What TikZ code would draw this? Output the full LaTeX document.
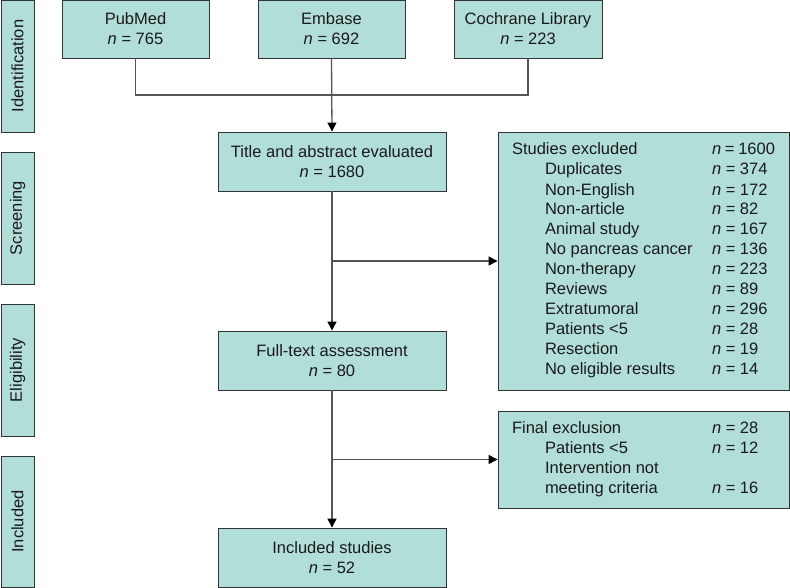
\documentclass[tikz,border=0pt]{standalone}
\usepackage{fontspec}
\setmainfont{Liberation Sans}
\usetikzlibrary{arrows.meta}
\definecolor{boxfill}{HTML}{B2DEDA}
\definecolor{boxline}{HTML}{333333}
\definecolor{conn}{HTML}{555555}
\definecolor{txt}{HTML}{1A1A1A}
\newcommand{\nn}[1]{\textit{n} = #1}
\newcommand{\ind}{\hspace*{33pt}}
\begin{document}
\begin{tikzpicture}[x=1pt,y=-1pt,
  every node/.style={font=\fontsize{16.5}{20}\selectfont, text=txt},
  flowbox/.style={draw=boxline, line width=0.9pt, fill=boxfill, align=center, inner sep=0pt},
  sidebox/.style={draw=boxline, line width=0.9pt, fill=boxfill, rotate=90, inner sep=0pt,
                  minimum width=132pt, minimum height=33pt},
  conline/.style={draw=conn, line width=1.3pt},
  arr/.style={conline, -{Triangle[length=9pt,width=9pt,color=black]}}
]
\useasboundingbox (0,0) rectangle (790,588);

% phase labels
\node[sidebox] (sid) at (17.5,66) {Identification};
\node[sidebox] (sscr) at (17.5,218) {Screening};
\node[sidebox] (selg) at (17.5,370) {Eligibility};
\node[sidebox, minimum width=131pt] (sinc) at (17.5,521.5) {Included};

% sources
\node[flowbox, minimum width=147pt, minimum height=58pt] (pub) at (135.5,29) {PubMed\\\nn{765}};
\node[flowbox, minimum width=147pt, minimum height=58pt] (emb) at (331.5,29) {Embase\\\nn{692}};
\node[flowbox, minimum width=148pt, minimum height=58pt] (coch) at (528,29) {Cochrane Library\\\nn{223}};

% main column
\node[flowbox, minimum width=228pt, minimum height=59pt] (title) at (332,161.5) {Title and abstract evaluated\\\nn{1680}};
\node[flowbox, minimum width=228pt, minimum height=59pt] (full) at (332,360.5) {Full-text assessment\\\nn{80}};
\node[flowbox, minimum width=228pt, minimum height=59pt] (incl) at (332,557.5) {Included studies\\\nn{52}};

% exclusion boxes
\node[flowbox, minimum width=291pt, minimum height=258pt, align=left] (excl) at (643.5,261) {%
\hspace*{14pt}\begin{tabular}{@{}p{200pt}@{}p{63pt}@{}}
Studies excluded & \nn{1600}\\
\ind Duplicates & \nn{374}\\
\ind Non-English & \nn{172}\\
\ind Non-article & \nn{82}\\
\ind Animal study & \nn{167}\\
\ind No pancreas cancer & \nn{136}\\
\ind Non-therapy & \nn{223}\\
\ind Reviews & \nn{89}\\
\ind Extratumoral & \nn{296}\\
\ind Patients <5 & \nn{28}\\
\ind Resection & \nn{19}\\
\ind No eligible results & \nn{14}
\end{tabular}\hspace*{14pt}};
\node[flowbox, minimum width=291pt, minimum height=97pt, align=left] (final) at (643.5,459.5) {%
\hspace*{14pt}\begin{tabular}{@{}p{200pt}@{}p{63pt}@{}}
Final exclusion & \nn{28}\\
\ind Patients <5 & \nn{12}\\
\ind Intervention not & \\
\ind meeting criteria & \nn{16}
\end{tabular}\hspace*{14pt}};

% connectors
\coordinate (jn) at (332,95);
\draw[conline] (pub.south) -- (pub.south |- jn) -- (coch.south |- jn) -- (coch.south);
\draw[arr] (emb.south) -- (title.north);
\draw[arr] (title.south) -- (full.north);
\draw[arr] (title.south |- excl.west) -- (excl.west);
\draw[arr] (full.south) -- (incl.north);
\draw[arr] (full.south |- final.west) -- (final.west);
\end{tikzpicture}
\end{document}
